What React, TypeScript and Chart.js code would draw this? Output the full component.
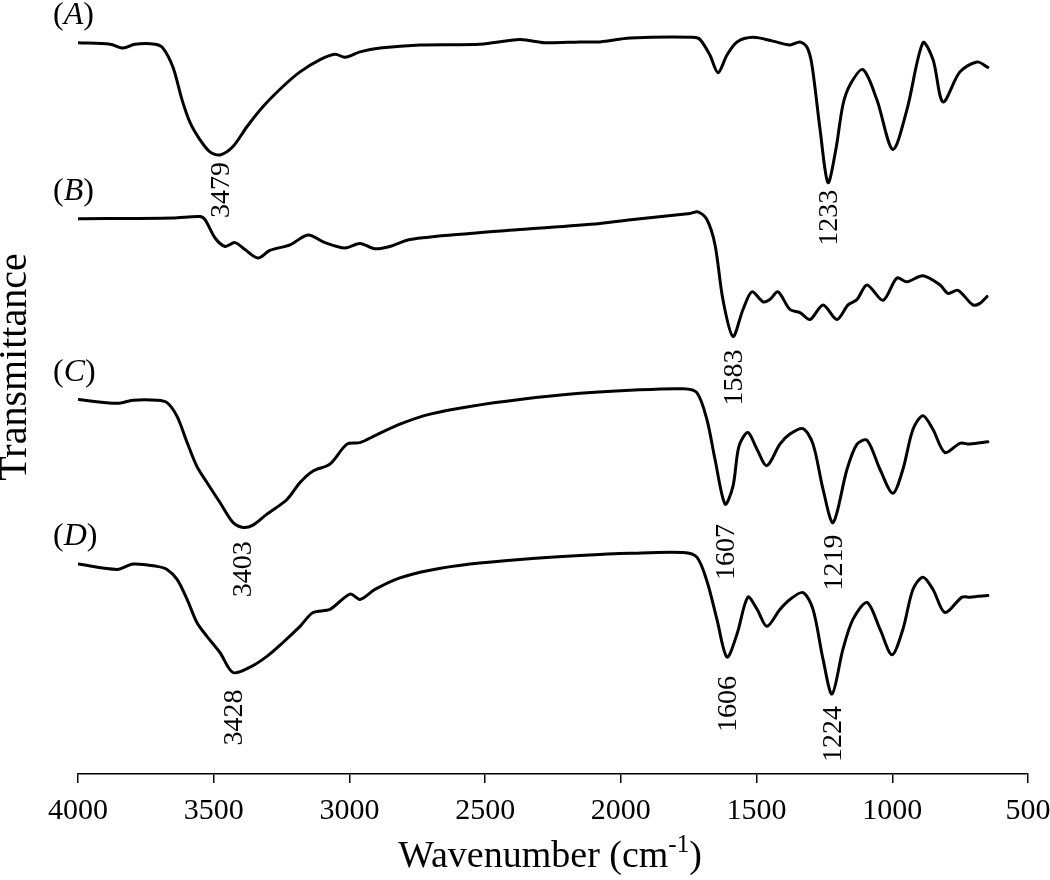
import React, { useEffect, useRef } from 'react';
import { Chart, registerables } from 'chart.js';

Chart.register(...registerables);

// ---- Data (wavenumber in cm-1, transmittance in arbitrary units, spectra offset vertically) ----
const SERIES_NAMES = ['A', 'B', 'C', 'D'];

const WN_A = [4000, 3882, 3834, 3790, 3716, 3687, 3650, 3617, 3587, 3551, 3514, 3477, 3429, 3377, 3318, 3245, 3182, 3108, 3053, 3016, 2961, 2887, 2740, 2519, 2372, 2280, 2151, 2077, 1966, 1734, 1708, 1672, 1642, 1609, 1572, 1513, 1440, 1377, 1340, 1314, 1296, 1266, 1237, 1208, 1182, 1156, 1108, 1057, 998, 946, 887, 850, 813, 751, 688, 648];
const T_A = [95.1, 94.9, 94.4, 94.9, 94.9, 94.4, 91.9, 87.7, 84.7, 82.5, 80.9, 80.5, 81.6, 84.2, 86.8, 89.4, 91.3, 92.9, 93.6, 93.2, 93.9, 94.4, 94.8, 94.9, 95.5, 95.1, 95.2, 95.2, 95.7, 95.8, 95.5, 93.5, 91.2, 93.5, 95.2, 95.8, 95.3, 94.8, 95.2, 94.5, 92.2, 83.8, 76.9, 81.2, 87.0, 89.6, 91.6, 87.7, 81.2, 86.4, 95.1, 92.9, 87.4, 91.3, 92.6, 91.9];

const WN_B = [4000, 3650, 3551, 3532, 3495, 3458, 3422, 3385, 3337, 3293, 3219, 3153, 3090, 3016, 2961, 2906, 2851, 2777, 2556, 2372, 2077, 1955, 1745, 1716, 1683, 1653, 1624, 1587, 1550, 1517, 1476, 1451, 1421, 1377, 1340, 1303, 1255, 1204, 1163, 1130, 1093, 1034, 983, 946, 887, 824, 795, 758, 703, 677, 651];
const T_B = [72.2, 72.3, 72.5, 72.1, 69.7, 68.6, 69.1, 68.2, 67.1, 68.1, 68.8, 70.1, 69.1, 68.4, 69.0, 68.3, 68.6, 69.5, 70.3, 70.8, 71.6, 72.1, 72.9, 73.1, 72.1, 68.8, 61.7, 56.9, 60.4, 62.7, 61.4, 61.7, 62.7, 60.4, 60.0, 59.1, 61.0, 59.1, 61.0, 61.7, 63.6, 61.6, 64.5, 64.0, 64.8, 63.6, 62.5, 62.9, 61.0, 61.2, 62.1];

const WN_C = [4000, 3856, 3797, 3709, 3672, 3635, 3598, 3562, 3525, 3477, 3429, 3396, 3359, 3304, 3230, 3182, 3134, 3072, 3009, 2961, 2906, 2814, 2703, 2556, 2372, 2151, 1966, 1771, 1720, 1683, 1653, 1616, 1587, 1565, 1532, 1498, 1462, 1414, 1377, 1329, 1292, 1255, 1218, 1167, 1130, 1093, 1045, 998, 961, 924, 887, 850, 806, 751, 714, 648];
const T_C = [48.7, 48.2, 48.6, 48.6, 48.3, 46.5, 43.1, 40.0, 37.9, 35.3, 32.7, 32.1, 32.3, 33.8, 35.7, 37.9, 39.4, 40.3, 42.9, 43.1, 44.0, 45.5, 46.8, 47.8, 48.7, 49.5, 49.9, 50.1, 49.6, 46.1, 40.9, 35.1, 37.4, 42.6, 44.4, 42.2, 40.1, 42.9, 44.2, 44.9, 42.9, 37.0, 32.7, 39.6, 42.9, 43.4, 39.6, 36.5, 39.6, 44.8, 46.6, 44.8, 41.8, 43.0, 42.9, 43.2];

const WN_D = [4000, 3856, 3797, 3709, 3672, 3635, 3598, 3562, 3525, 3477, 3429, 3366, 3304, 3245, 3182, 3134, 3072, 2998, 2961, 2906, 2814, 2703, 2556, 2372, 2151, 1966, 1771, 1720, 1683, 1646, 1609, 1572, 1532, 1498, 1462, 1414, 1377, 1329, 1292, 1255, 1222, 1182, 1145, 1093, 1045, 1001, 961, 924, 887, 850, 806, 743, 714, 648];
const T_D = [27.3, 26.6, 27.3, 27.0, 26.6, 25.3, 22.7, 19.7, 17.9, 15.8, 13.2, 13.9, 15.3, 17.1, 19.2, 21.0, 21.4, 23.4, 22.7, 24.0, 25.5, 26.5, 27.3, 27.9, 28.4, 28.7, 28.8, 28.2, 25.1, 20.1, 15.2, 18.2, 23.0, 21.4, 19.2, 21.4, 22.7, 23.6, 21.4, 14.9, 10.4, 16.2, 20.1, 22.3, 18.8, 15.5, 18.8, 24.0, 25.6, 24.0, 21.0, 23.0, 23.0, 23.2];

// Peak annotations: series index and wavenumber
const PEAK_SERIES = [0, 0, 1, 2, 2, 2, 3, 3, 3];
const PEAK_WN = [3479, 1233, 1583, 3403, 1607, 1219, 3428, 1606, 1224];

const X_MIN = 500;
const X_MAX = 4000;
const X_STEP = 500;
const X_TITLE_MAIN = 'Wavenumber (cm';
const X_TITLE_SUP = '-1';
const X_TITLE_END = ')';
const Y_TITLE = 'Transmittance';

// ---- Styling ----
const FONT = '"Liberation Serif", "Times New Roman", serif';
const PEAK_GAP = [7, 7, 13, 14, 20, 12, 17, 19, 12];

export default function App() {
  const ref = useRef<HTMLCanvasElement>(null);

  useEffect(() => {
    const series = [
      [WN_A, T_A],
      [WN_B, T_B],
      [WN_C, T_C],
      [WN_D, T_D],
    ];

    const annot = {
      id: 'annot',
      afterDraw(chart: any) {
        const ctx = chart.ctx as CanvasRenderingContext2D;
        ctx.save();
        ctx.fillStyle = '#000';

        // Series letters (A)..(D)
        series.forEach((_, si) => {
          const meta = chart.getDatasetMeta(si);
          const p0 = meta.data[0];
          const y = p0.y - 27;
          let x = 53;
          ctx.textBaseline = 'middle';
          ctx.textAlign = 'left';
          ctx.font = `32px ${FONT}`;
          ctx.fillText('(', x, y);
          x += ctx.measureText('(').width;
          ctx.font = `italic 32px ${FONT}`;
          ctx.fillText(SERIES_NAMES[si], x, y);
          x += ctx.measureText(SERIES_NAMES[si]).width;
          ctx.font = `32px ${FONT}`;
          ctx.fillText(')', x, y);
        });

        // Peak labels
        ctx.font = `28px ${FONT}`;
        PEAK_WN.forEach((wn, k) => {
          const si = PEAK_SERIES[k];
          const [wns, ts] = series[si];
          let best = -1;
          for (let i = 0; i < wns.length; i++) {
            if (Math.abs(wns[i] - wn) <= 40 && (best < 0 || ts[i] < ts[best])) best = i;
          }
          if (best < 0) return;
          const pt = chart.getDatasetMeta(si).data[best];
          ctx.save();
          ctx.translate(pt.x + 2, pt.y + PEAK_GAP[k]);
          ctx.rotate(-Math.PI / 2);
          ctx.textAlign = 'right';
          ctx.textBaseline = 'middle';
          ctx.fillText(String(wn), 0, 0);
          ctx.restore();
        });

        // Y title
        ctx.save();
        ctx.font = `40px ${FONT}`;
        ctx.translate(26, 367);
        ctx.rotate(-Math.PI / 2);
        ctx.textAlign = 'center';
        ctx.textBaseline = 'alphabetic';
        ctx.fillText(Y_TITLE, 0, 0);
        ctx.restore();

        // X title with superscript
        const cx = 550;
        ctx.textAlign = 'left';
        ctx.textBaseline = 'alphabetic';
        ctx.font = `38px ${FONT}`;
        const w1 = ctx.measureText(X_TITLE_MAIN).width;
        const w3 = ctx.measureText(X_TITLE_END).width;
        ctx.font = `25px ${FONT}`;
        const w2 = ctx.measureText(X_TITLE_SUP).width;
        let x = cx - (w1 + w2 + w3) / 2;
        const base = 867;
        ctx.font = `38px ${FONT}`;
        ctx.fillText(X_TITLE_MAIN, x, base);
        x += w1;
        ctx.font = `25px ${FONT}`;
        ctx.fillText(X_TITLE_SUP, x, base - 15);
        x += w2;
        ctx.font = `38px ${FONT}`;
        ctx.fillText(X_TITLE_END, x, base);

        ctx.restore();
      },
    };

    const chart = new Chart(ref.current as HTMLCanvasElement, {
      type: 'line',
      data: {
        datasets: series.map(([wns, ts], si) => ({
          label: SERIES_NAMES[si],
          data: wns.map((w, i) => ({ x: w, y: ts[i] })),
          borderColor: '#000',
          borderWidth: 3,
          pointRadius: 0,
          fill: false,
          tension: 0.3,
          borderJoinStyle: 'round' as const,
          borderCapStyle: 'round' as const,
        })),
      },
      options: {
        responsive: false,
        animation: false,
        layout: { padding: { left: 78, right: 22, top: 5, bottom: 41 } },
        plugins: {
          legend: { display: false },
          tooltip: { enabled: false },
        },
        scales: {
          x: {
            type: 'linear',
            reverse: true,
            min: X_MIN,
            max: X_MAX,
            afterFit: (s: any) => {
              s.paddingLeft = 0;
              s.paddingRight = 0;
            },
            border: { display: true, color: '#000', width: 1.5 },
            grid: {
              display: true,
              drawOnChartArea: false,
              drawTicks: true,
              tickLength: 9,
              color: '#000',
              lineWidth: 1.5,
            },
            ticks: {
              stepSize: X_STEP,
              color: '#000',
              padding: 10,
              maxRotation: 0,
              font: { family: FONT, size: 30 },
              callback: (v: any) => String(v),
            },
          },
          y: {
            display: false,
            min: 0,
            max: 100,
          },
        },
      },
      plugins: [annot],
    });

    return () => chart.destroy();
  }, []);

  return (
    <div style={{ position: 'fixed', left: 0, top: 0, width: 1050, height: 880, background: '#fff' }}>
      <canvas ref={ref} width={1050} height={880} style={{ display: 'block' }} />
    </div>
  );
}
